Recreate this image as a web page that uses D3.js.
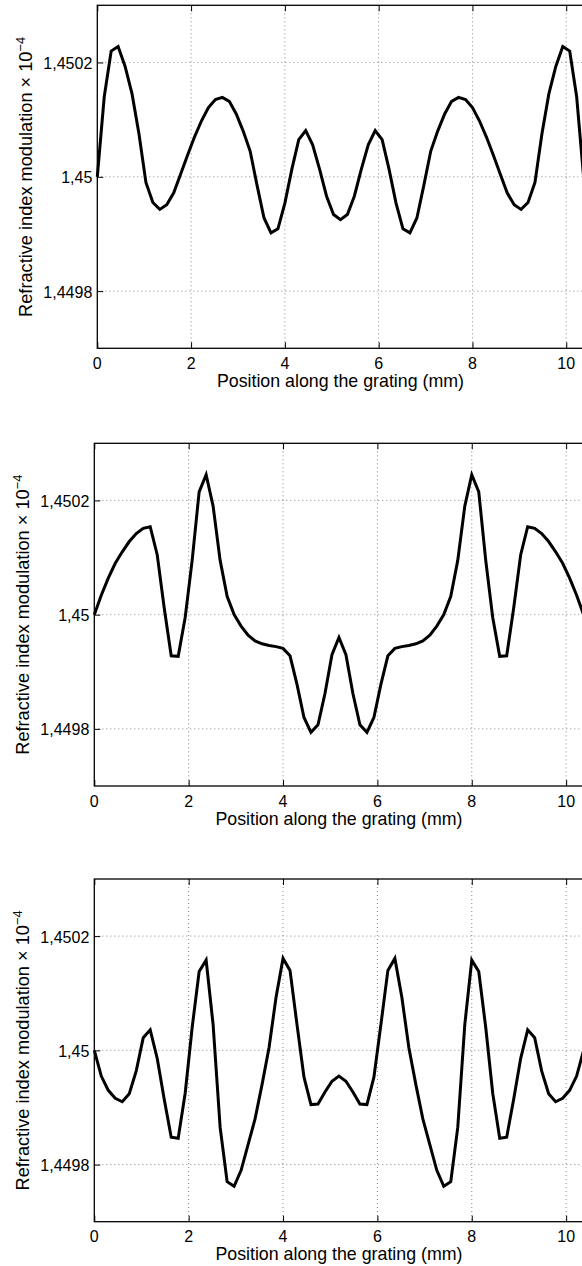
<!DOCTYPE html>
<html>
<head>
<meta charset="utf-8">
<script src="https://cdn.jsdelivr.net/npm/d3@7"></script>
<style>
  body { margin: 0; background: #fff; }
  text { font-family: "Liberation Sans", Arial, Helvetica, sans-serif; fill: #000; }
</style>
</head>
<body>
<div id="chart"></div>
<script>

// sample positions along the grating (mm)
var position = [0, 0.148, 0.296, 0.444, 0.593, 0.741, 0.889, 1.037, 1.185, 1.333,
  1.481, 1.630, 1.778, 1.926, 2.074, 2.222, 2.370, 2.518, 2.667, 2.815,
  2.963, 3.111, 3.259, 3.407, 3.555, 3.704, 3.852, 4.000, 4.148, 4.296,
  4.444, 4.592, 4.741, 4.889, 5.037, 5.185, 5.333, 5.481, 5.629, 5.778,
  5.926, 6.074, 6.222, 6.370, 6.518, 6.666, 6.815, 6.963, 7.111, 7.259,
  7.407, 7.555, 7.703, 7.852, 8.000, 8.148, 8.296, 8.444, 8.592, 8.740,
  8.889, 9.037, 9.185, 9.333, 9.481, 9.629, 9.777, 9.926, 10.074, 10.222, 10.370];

// refractive index modulation, top panel
var modulationA = [1.45000, 1.45014, 1.45022, 1.450228, 1.450193, 1.450145, 1.450075, 1.44999, 1.449955, 1.449943,
  1.449951, 1.449972, 1.450005, 1.450038, 1.45007, 1.450098, 1.450121, 1.450135, 1.450139, 1.450132,
  1.45011, 1.45008, 1.450045, 1.449985, 1.449928, 1.449902, 1.449909, 1.449954, 1.450013, 1.450065,
  1.450081, 1.450056, 1.450013, 1.449966, 1.449934, 1.449925, 1.449934, 1.449966, 1.450013, 1.450056,
  1.450081, 1.450065, 1.450013, 1.449954, 1.449909, 1.449902, 1.449928, 1.449985, 1.450045, 1.45008,
  1.45011, 1.450132, 1.450139, 1.450135, 1.450121, 1.450098, 1.45007, 1.450038, 1.450005, 1.449972,
  1.449951, 1.449943, 1.449955, 1.44999, 1.450075, 1.450145, 1.450193, 1.450228, 1.45022, 1.45014, 1.45000];

// middle panel
var modulationB = [1.45000, 1.450034, 1.450064, 1.45009, 1.45011, 1.450128, 1.450142, 1.450151, 1.450154, 1.450105,
  1.450012, 1.449928, 1.449927, 1.449995, 1.450095, 1.450215, 1.450245, 1.450190, 1.450095, 1.450032,
  1.45000, 1.44998, 1.449964, 1.449954, 1.449949, 1.449946, 1.449944, 1.449941, 1.449928, 1.449878,
  1.44982, 1.449794, 1.449807, 1.449862, 1.449930, 1.44996, 1.449930, 1.449862, 1.449807, 1.449794,
  1.44982, 1.449878, 1.449928, 1.449941, 1.449944, 1.449946, 1.449949, 1.449954, 1.449964, 1.44998,
  1.45000, 1.450032, 1.450095, 1.450190, 1.450245, 1.450215, 1.450095, 1.449995, 1.449927, 1.449928,
  1.450012, 1.450105, 1.450154, 1.450151, 1.450142, 1.450128, 1.45011, 1.45009, 1.450064, 1.450034, 1.45000];

// bottom panel
var modulationC = [1.45000, 1.449955, 1.44993, 1.449916, 1.44991, 1.449924, 1.449964, 1.450022, 1.450036, 1.449986,
  1.449915, 1.449848, 1.449846, 1.449925, 1.45004, 1.450138, 1.450158, 1.450045, 1.449865, 1.44977,
  1.449762, 1.44979, 1.449835, 1.44988, 1.44994, 1.450005, 1.450093, 1.450161, 1.45014, 1.450045,
  1.449953, 1.449905, 1.449906, 1.449927, 1.449946, 1.449955, 1.449946, 1.449927, 1.449906, 1.449905,
  1.449953, 1.450045, 1.45014, 1.450161, 1.450093, 1.450005, 1.44994, 1.44988, 1.449835, 1.44979,
  1.449762, 1.44977, 1.449865, 1.450045, 1.450158, 1.450138, 1.45004, 1.449925, 1.449846, 1.449848,
  1.449915, 1.449986, 1.450036, 1.450022, 1.449964, 1.449924, 1.44991, 1.449916, 1.44993, 1.449955, 1.45000];

var xTicks = [0, 2, 4, 6, 8, 10];
var yTicks = [1.4498, 1.45, 1.4502];
var yTickLabels = ["1,4498", "1,45", "1,4502"];

var xLabel = "Position along the grating (mm)";
var yLabel = "Refractive index modulation \u00d7 10";
var yLabelExp = "\u22124";

var width = 582, height = 1266;

var svg = d3.select("#chart")
  .append("svg")
  .attr("width", width)
  .attr("height", height);

var panels = [
  {data: modulationA, left: 97.3, top: 5.3, bottom: 348.3},
  {data: modulationB, left: 94.3, top: 443.3, bottom: 786},
  {data: modulationC, left: 94.3, top: 879, bottom: 1221.7}
];

panels.forEach(function(p) {
  drawPanel(p);
});

function drawPanel(p) {
  var right = 583.6;

  var x = d3.scaleLinear().domain([0, 10.37]).range([p.left, right]);
  var y = d3.scaleLinear().domain([1.4497, 1.4503]).range([p.bottom, p.top]);

  var g = svg.append("g");

  // dotted grid
  g.append("g")
    .selectAll("line")
    .data(xTicks.filter(function(d) { return d > 0; }))
    .enter().append("line")
    .attr("x1", d => x(d)).attr("x2", d => x(d))
    .attr("y1", p.top).attr("y2", p.bottom)
    .attr("stroke", "#6a6a6a")
    .attr("stroke-width", 0.8)
    .attr("stroke-dasharray", "1,3");

  g.append("g")
    .selectAll("line")
    .data(yTicks)
    .enter().append("line")
    .attr("x1", p.left).attr("x2", right)
    .attr("y1", d => y(d)).attr("y2", d => y(d))
    .attr("stroke", "#6a6a6a")
    .attr("stroke-width", 0.8)
    .attr("stroke-dasharray", "1,3");

  // the curve
  var line = d3.line()
    .x(function(d, i) { return x(position[i]); })
    .y(function(d) { return y(d); });

  g.append("path")
    .datum(p.data)
    .attr("d", line)
    .attr("fill", "none")
    .attr("stroke", "#000")
    .attr("stroke-width", 3)
    .attr("stroke-linejoin", "miter");

  // axes, ticks inside like matlab
  var xAxisB = d3.axisTop(x).tickValues(xTicks).tickSize(6).tickFormat("");
  var xAxisT = d3.axisBottom(x).tickValues(xTicks).tickSize(6).tickFormat("");
  var yAxisL = d3.axisRight(y).tickValues(yTicks).tickSize(6).tickFormat("");

  g.append("g")
    .attr("transform", "translate(0," + p.bottom + ")")
    .call(xAxisB);
  g.append("g")
    .attr("transform", "translate(0," + p.top + ")")
    .call(xAxisT);
  g.append("g")
    .attr("transform", "translate(" + p.left + ",0)")
    .call(yAxisL);

  g.selectAll(".domain").remove();
  g.selectAll(".tick line").attr("stroke", "#000").attr("stroke-width", 1);

  g.append("rect")
    .attr("x", p.left)
    .attr("y", p.top)
    .attr("width", right - p.left)
    .attr("height", p.bottom - p.top)
    .attr("fill", "none")
    .attr("stroke", "#000")
    .attr("stroke-width", 1.3);

  // tick labels
  g.append("g")
    .selectAll("text")
    .data(xTicks)
    .enter().append("text")
    .attr("x", d => x(d))
    .attr("y", p.bottom + 20.5)
    .attr("text-anchor", "middle")
    .style("font-size", "16px")
    .text(d => d);

  g.append("g")
    .selectAll("text")
    .data(yTicks)
    .enter().append("text")
    .attr("x", p.left - 5)
    .attr("y", d => y(d) + 6.5)
    .attr("text-anchor", "end")
    .style("font-size", "16px")
    .text((d, i) => yTickLabels[i]);

  // axis labels
  g.append("text")
    .attr("x", (p.left + right) / 2)
    .attr("y", p.bottom + 38.5)
    .attr("text-anchor", "middle")
    .style("font-size", "17.8px")
    .text(xLabel);

  var yl = g.append("text")
    .attr("transform", "translate(" + (p.left - 65) + "," + ((p.top + p.bottom) / 2) + ") rotate(-90)")
    .attr("text-anchor", "middle")
    .style("font-size", "18.2px");
  yl.append("tspan").text(yLabel);
  yl.append("tspan")
    .attr("dy", -7.5)
    .style("font-size", "13px")
    .text(yLabelExp);
}

</script>
</body>
</html>
